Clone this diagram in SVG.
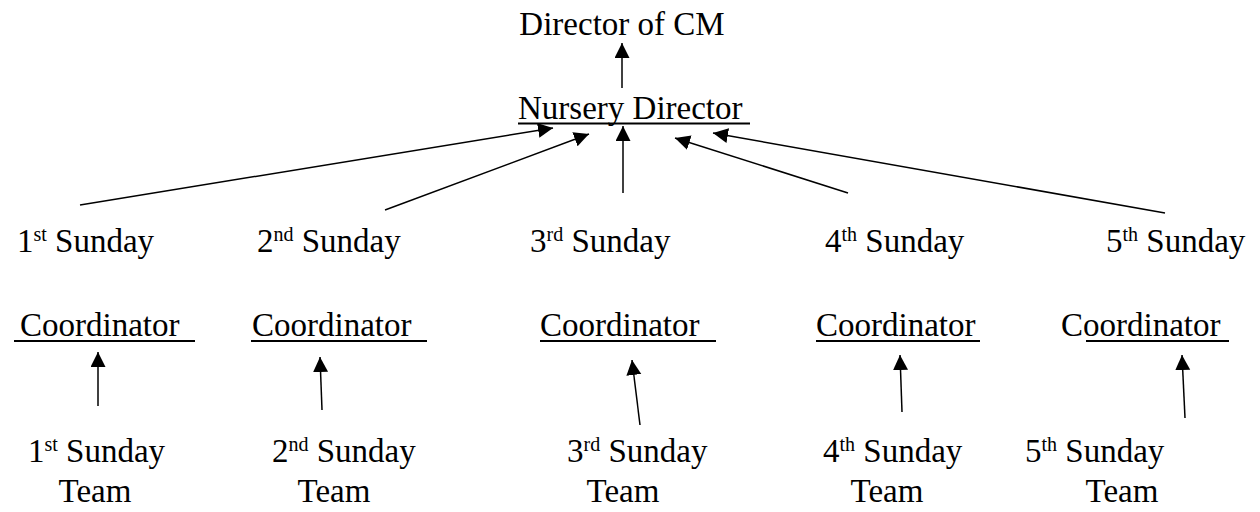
<svg xmlns="http://www.w3.org/2000/svg" width="1260" height="512" viewBox="0 0 1260 512">
<style>
text{font-family:"Liberation Serif","Times New Roman",serif;font-size:33px;fill:#000}
.sup{font-size:20px}
.ul{stroke:#000;stroke-width:2}
.c{stroke:#000;stroke-width:1.5;fill:none;marker-end:url(#ah)}
</style>
<defs>
<marker id="ah" markerUnits="userSpaceOnUse" markerWidth="16" markerHeight="16" refX="15" refY="7.5" orient="auto">
<path d="M0,0 L15,7.5 L0,15 z" fill="#000"/>
</marker>
</defs>
<rect width="1260" height="512" fill="#fff"/>
<g id="director"><text x="622" y="35" text-anchor="middle">Director of CM</text></g>
<g id="nursery"><text x="518" y="119">Nursery Director</text><line class="ul" x1="518" y1="123.5" x2="750" y2="123.5"/></g>
<g id="sun1"><text x="17" y="252">1<tspan class="sup" dy="-11">st</tspan><tspan dy="11"> Sunday</tspan></text></g>
<g id="sun2"><text x="257" y="252">2<tspan class="sup" dy="-11">nd</tspan><tspan dy="11"> Sunday</tspan></text></g>
<g id="sun3"><text x="530" y="252">3<tspan class="sup" dy="-11">rd</tspan><tspan dy="11"> Sunday</tspan></text></g>
<g id="sun4"><text x="825" y="252">4<tspan class="sup" dy="-11">th</tspan><tspan dy="11"> Sunday</tspan></text></g>
<g id="sun5"><text x="1106" y="252">5<tspan class="sup" dy="-11">th</tspan><tspan dy="11"> Sunday</tspan></text></g>
<g id="coord1"><text x="20" y="336">Coordinator</text><line class="ul" x1="14" y1="341" x2="195" y2="341"/></g>
<g id="coord2"><text x="252" y="336">Coordinator</text><line class="ul" x1="251" y1="341" x2="427" y2="341"/></g>
<g id="coord3"><text x="540" y="336">Coordinator</text><line class="ul" x1="540" y1="341" x2="716" y2="341"/></g>
<g id="coord4"><text x="816" y="336">Coordinator</text><line class="ul" x1="816" y1="341" x2="980" y2="341"/></g>
<g id="coord5"><text x="1061" y="336">Coordinator</text><line class="ul" x1="1086" y1="341" x2="1229" y2="341"/></g>
<g id="team1"><text x="28" y="462">1<tspan class="sup" dy="-11">st</tspan><tspan dy="11"> Sunday</tspan></text><text x="95" y="502" text-anchor="middle">Team</text></g>
<g id="team2"><text x="272" y="462">2<tspan class="sup" dy="-11">nd</tspan><tspan dy="11"> Sunday</tspan></text><text x="334" y="502" text-anchor="middle">Team</text></g>
<g id="team3"><text x="567" y="462">3<tspan class="sup" dy="-11">rd</tspan><tspan dy="11"> Sunday</tspan></text><text x="623" y="502" text-anchor="middle">Team</text></g>
<g id="team4"><text x="823" y="462">4<tspan class="sup" dy="-11">th</tspan><tspan dy="11"> Sunday</tspan></text><text x="887" y="502" text-anchor="middle">Team</text></g>
<g id="team5"><text x="1025" y="462">5<tspan class="sup" dy="-11">th</tspan><tspan dy="11"> Sunday</tspan></text><text x="1122" y="502" text-anchor="middle">Team</text></g>
<g id="connectors">
<line class="c" x1="622" y1="88" x2="622" y2="43"/>
<line class="c" x1="80" y1="205" x2="553" y2="128"/>
<line class="c" x1="385" y1="210" x2="589" y2="134"/>
<line class="c" x1="623" y1="193" x2="623" y2="126"/>
<line class="c" x1="848" y1="193" x2="675" y2="138"/>
<line class="c" x1="1165" y1="213" x2="713" y2="133"/>
<line class="c" x1="98" y1="406" x2="98" y2="352"/>
<line class="c" x1="322" y1="410" x2="320" y2="357"/>
<line class="c" x1="640" y1="425" x2="632" y2="360"/>
<line class="c" x1="902" y1="412" x2="900" y2="355"/>
<line class="c" x1="1185" y1="418" x2="1182" y2="355"/>
</g>
</svg>
